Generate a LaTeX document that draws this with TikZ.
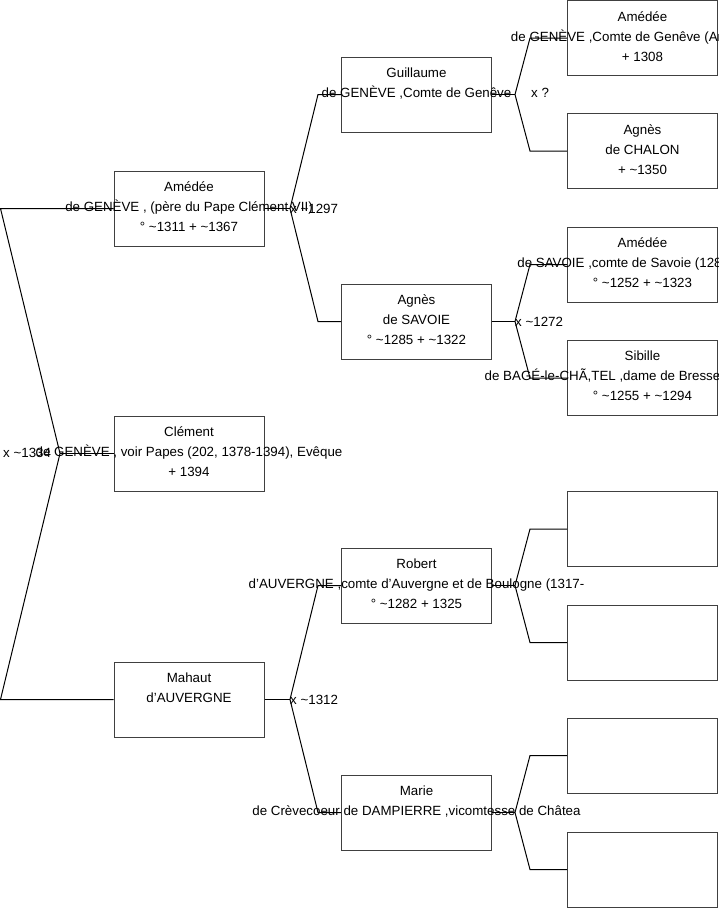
\documentclass[tikz,border=0pt]{standalone}
\usepackage{fontspec}
\setmainfont{Liberation Sans}
\usetikzlibrary{calc}
\definecolor{boxgrey}{HTML}{404040}
\newcommand{\persfont}{\fontsize{13.33}{20}\selectfont}
\newcommand{\tld}{\textasciitilde}
\tikzset{
  person/.style={draw=boxgrey, line width=1pt, fill=white,
                 minimum width=150pt, minimum height=75pt, inner sep=0pt},
  persontext/.style={anchor=north, yshift=-11pt, align=center,
                     font=\persfont, inner sep=0pt},
  union/.style={anchor=west, font=\persfont, inner sep=0pt},
  link/.style={draw=black, line width=1pt},
}
\begin{document}
\begin{tikzpicture}[x=1pt, y=-1pt]
\useasboundingbox (0,0) rectangle (719,908);

% generation 1
\node[person] (amedee) at (189,208.5) {};
\node[person] (clement) at (189,453.5) {};
\node[person] (mahaut) at (189,699.5) {};

% generation 2
\node[person] (guillaume) at (416.5,94.5) {};
\node[person] (agnes) at (416.5,321.5) {};
\node[person] (robert) at (416.5,585.5) {};
\node[person] (marie) at (416.5,812.5) {};

% generation 3
\node[person] (amedeeg) at (642.5,38) {};
\node[person] (agnesc) at (642.5,151) {};
\node[person] (amedees) at (642.5,264.5) {};
\node[person] (sibille) at (642.5,378) {};
\node[person] (robertf) at (642.5,529) {};
\node[person] (robertm) at (642.5,642.5) {};
\node[person] (marief) at (642.5,755.5) {};
\node[person] (mariem) at (642.5,869.5) {};

% forks
\coordinate (u0) at (60,453.5);
\coordinate (u1) at (290,208.5);
\coordinate (u2) at (290,699.5);
\coordinate (u3) at (515,94.5);
\coordinate (u4) at (515,321.5);
\coordinate (u5) at (515,585.5);
\coordinate (u6) at (515,812.5);

\draw[link] (clement.west) -- (u0);
\draw[link] (amedee.west) -- ($(amedee.west)+(-113,0)$) -- (u0)
  -- ($(mahaut.west)+(-113,0)$) -- (mahaut.west);

\draw[link] (amedee.east) -- (u1);
\draw[link] (guillaume.west) -- ($(guillaume.west)+(-23,0)$) -- (u1)
  -- ($(agnes.west)+(-23,0)$) -- (agnes.west);
\draw[link] (mahaut.east) -- (u2);
\draw[link] (robert.west) -- ($(robert.west)+(-23,0)$) -- (u2)
  -- ($(marie.west)+(-23,0)$) -- (marie.west);

\draw[link] (guillaume.east) -- (u3);
\draw[link] (amedeeg.west) -- ($(amedeeg.west)+(-37,0)$) -- (u3)
  -- ($(agnesc.west)+(-37,0)$) -- (agnesc.west);
\draw[link] (agnes.east) -- (u4);
\draw[link] (amedees.west) -- ($(amedees.west)+(-37,0)$) -- (u4)
  -- ($(sibille.west)+(-37,0)$) -- (sibille.west);
\draw[link] (robert.east) -- (u5);
\draw[link] (robertf.west) -- ($(robertf.west)+(-37,0)$) -- (u5)
  -- ($(robertm.west)+(-37,0)$) -- (robertm.west);
\draw[link] (marie.east) -- (u6);
\draw[link] (marief.west) -- ($(marief.west)+(-37,0)$) -- (u6)
  -- ($(mariem.west)+(-37,0)$) -- (mariem.west);

% names
\node[persontext] (tamedee) at (amedee.north)
  {Amédée\\de GENÈVE , (père du Pape Clément VII)\\° \tld1311 + \tld1367};
\node[persontext] (tclement) at (clement.north)
  {Clément\\de GENÈVE , voir Papes (202, 1378-1394), Evêque\\+ 1394};
\node[persontext] (tmahaut) at (mahaut.north) {Mahaut\\d'AUVERGNE};
\node[persontext] (tguillaume) at (guillaume.north)
  {Guillaume\\de GENÈVE ,Comte de Genêve};
\node[persontext] (tagnes) at (agnes.north)
  {Agnès\\de SAVOIE\\° \tld1285 + \tld1322};
\node[persontext] (trobert) at (robert.north)
  {Robert\\d'AUVERGNE ,comte d'Auvergne et de Boulogne (1317-\\° \tld1282 + 1325};
\node[persontext] (tmarie) at (marie.north)
  {Marie\\de Crèvecoeur de DAMPIERRE ,vicomtesse de Châtea};
\node[persontext] (tamedeeg) at (amedeeg.north)
  {Amédée\\de GENÈVE ,Comte de Genêve (Amédée II)\\+ 1308};
\node[persontext] (tagnesc) at (agnesc.north)
  {Agnès\\de CHALON\\+ \tld1350};
\node[persontext] (tamedees) at (amedees.north)
  {Amédée\\de SAVOIE ,comte de Savoie (1285-1323)\\° \tld1252 + \tld1323};
\node[persontext] (tsibille) at (sibille.north)
  {Sibille\\de BAGÉ-le-CHÃ,TEL ,dame de Bresse\rule{80pt}{0pt}\\° \tld1255 + \tld1294};

% marriages
\node[union] (m0) at (3,453) {x \tld1334};
\node[union] (m1) at (u1) {x \tld1297};
\node[union] (m2) at (u2) {x \tld1312};
\node[union] (m3) at (531,93) {x ?};
\node[union] (m4) at (u4) {x \tld1272};
\end{tikzpicture}
\end{document}
